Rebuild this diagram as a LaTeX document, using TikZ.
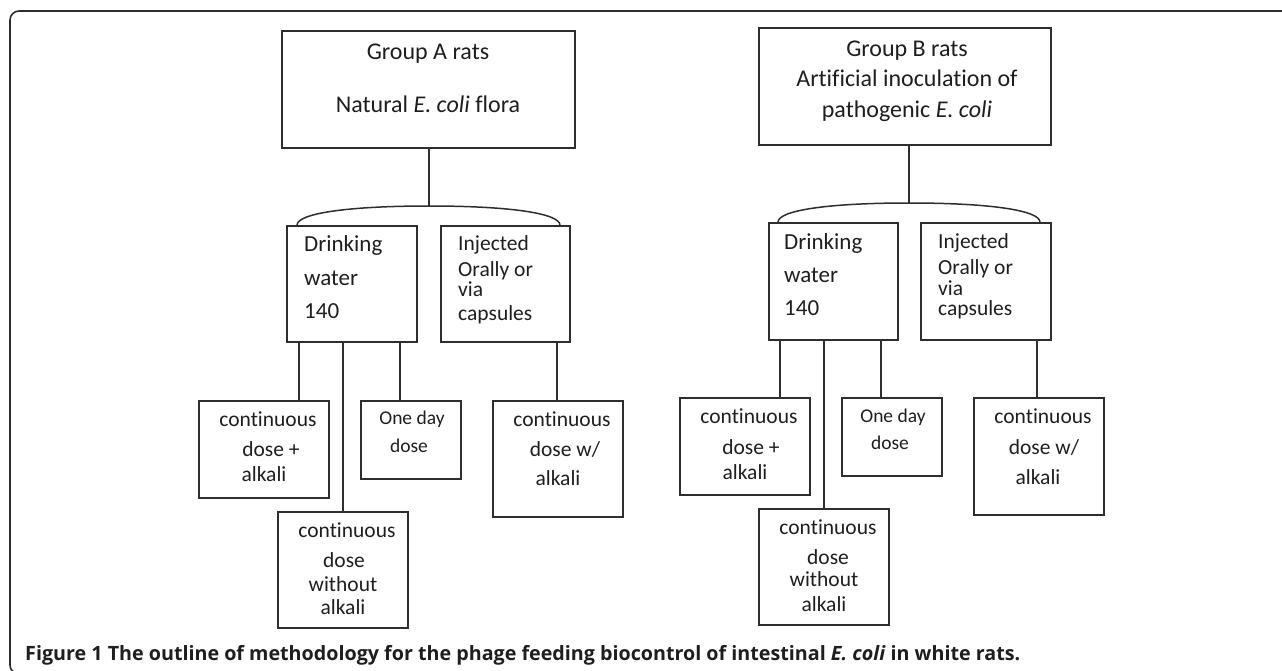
\documentclass[tikz,border=0pt]{standalone}
\usepackage{fontspec}
\setmainfont{Carlito}[Ligatures={NoCommon}]
\newfontfamily\capfont{Open Sans}
\begin{document}
\begin{tikzpicture}[x=1pt,y=-1pt,
  box/.style={draw=linecol, line width=1.6pt, rectangle, inner sep=0pt},
  conn/.style={draw=linecol, line width=1.5pt},
  tx/.style={inner sep=0pt, text=txtcol, font=\fontsize{21.5}{21.5}\selectfont, text height=0.62em, text depth=0.08em},
  tbig/.style={tx, font=\fontsize{24}{24}\selectfont},
  tdw/.style={tx, anchor=west, font=\fontsize{23}{23}\selectfont},
  ts/.style={tx, font=\fontsize{19.5}{19.5}\selectfont},
  tsl/.style={tx, anchor=west},
  figcap/.style={inner sep=0pt, anchor=base west, text=txtcol, font=\capfont\fontsize{19.7}{19.7}\selectfont\bfseries}
]
\definecolor{linecol}{HTML}{2E2E2E}
\definecolor{txtcol}{HTML}{1E1E1E}
\useasboundingbox (0,0) rectangle (1282,671);
\clip (0,0) rectangle (1282,671);
% outer frame
\draw[linecol, line width=1.6pt, rounded corners=9pt] (10,11) rectangle (1310,674);

% ---------- Group A ----------
\node[box, minimum width=293, minimum height=117] (gA) at (428.5,89.5) {};
\node[tbig] (gA1) at (428,57) {Group A rats};
\node[tbig] (gA2) at (428,110) {Natural \textit{E. coli} flora};
\coordinate (pA) at (429,206);
\node[box, minimum width=130, minimum height=116] (dA) at (352,284) {};
\node[tdw] (dA1) at (304,249) {Drinking};
\node[tdw] (dA2) at (304,283) {water};
\node[tdw] (dA3) at (304,316) {140};
\node[box, minimum width=129, minimum height=116] (iA) at (505.5,284) {};
\node[tsl] (iA1) at (458,248) {Injected};
\node[tsl] (iA2) at (458,274) {Orally or};
\node[tsl] (iA3) at (458,294) {via};
\node[tsl] (iA4) at (458,318) {capsules};
\node[box, minimum width=130, minimum height=97] (caA) at (264,449.5) {};
\node[tx] (caA1) at (268,424) {continuous};
\node[tx] (caA2) at (271,454) {dose +};
\node[tx] (caA3) at (264,479) {alkali};
\node[box, minimum width=100, minimum height=78] (oA) at (411,440) {};
\node[ts] (oA1) at (412,422) {One day};
\node[ts] (oA2) at (409,450) {dose};
\node[box, minimum width=130, minimum height=116] (cwA) at (558,459) {};
\node[tx] (cwA1) at (562,424) {continuous};
\node[tx] (cwA2) at (565,454) {dose w/};
\node[tx] (cwA3) at (558,483) {alkali};
\node[box, minimum width=130, minimum height=116] (nA) at (343,570) {};
\node[tx] (nA1) at (347,535) {continuous};
\node[tx] (nA2) at (344,565) {dose};
\node[tx] (nA3) at (343,589) {without};
\node[tx] (nA4) at (343,612) {alkali};

\draw[conn] (gA.south -| pA) -- (pA);
\draw[conn] (dA.north -| 297,0) .. controls +(0,-12) and +(-80,0) .. (pA)
            .. controls +(80,0) and +(0,-12) .. (iA.north -| 560,0);
\draw[conn] (dA.south -| 299,0) -- (caA.north -| 299,0);
\draw[conn] (dA.south -| 343,0) -- (nA.north -| 343,0);
\draw[conn] (dA.south -| 400,0) -- (oA.north -| 400,0);
\draw[conn] (iA.south -| 557,0) -- (cwA.north -| 557,0);

% ---------- Group B ----------
\node[box, minimum width=292, minimum height=117] (gB) at (905,86.5) {};
\node[tbig] (gB1) at (907,54) {Group B rats};
\node[tbig] (gB2) at (907,84) {Artificial inoculation of};
\node[tbig] (gB3) at (907,115) {pathogenic \textit{E. coli}};
\coordinate (pB) at (909,203);
\node[box, minimum width=129, minimum height=117] (dB) at (833.5,281.5) {};
\node[tdw] (dB1) at (784,247) {Drinking};
\node[tdw] (dB2) at (784,280) {water};
\node[tdw] (dB3) at (784,313) {140};
\node[box, minimum width=130, minimum height=117] (iB) at (986,281.5) {};
\node[tsl] (iB1) at (938,246) {Injected};
\node[tsl] (iB2) at (938,272) {Orally or};
\node[tsl] (iB3) at (938,293) {via};
\node[tsl] (iB4) at (938,313) {capsules};
\node[box, minimum width=130, minimum height=97] (caB) at (745,446.5) {};
\node[tx] (caB1) at (749,421) {continuous};
\node[tx] (caB2) at (751,452) {dose +};
\node[tx] (caB3) at (745,477) {alkali};
\node[box, minimum width=100, minimum height=78] (oB) at (892,437) {};
\node[ts] (oB1) at (893,420) {One day};
\node[ts] (oB2) at (890,447) {dose};
\node[box, minimum width=130, minimum height=117] (cwB) at (1039,456.5) {};
\node[tx] (cwB1) at (1043,421) {continuous};
\node[tx] (cwB2) at (1044,452) {dose w/};
\node[tx] (cwB3) at (1038,482) {alkali};
\node[box, minimum width=130, minimum height=116] (nB) at (824,567) {};
\node[tx] (nB1) at (828,532) {continuous};
\node[tx] (nB2) at (828,562) {dose};
\node[tx] (nB3) at (824,584) {without};
\node[tx] (nB4) at (824,609) {alkali};

\draw[conn] (gB.south -| pB) -- (pB);
\draw[conn] (dB.north -| 778,0) .. controls +(0,-12) and +(-80,0) .. (pB)
            .. controls +(80,0) and +(0,-12) .. (iB.north -| 1040,0);
\draw[conn] (dB.south -| 780,0) -- (caB.north -| 780,0);
\draw[conn] (dB.south -| 824,0) -- (nB.north -| 824,0);
\draw[conn] (dB.south -| 881,0) -- (oB.north -| 881,0);
\draw[conn] (iB.south -| 1037,0) -- (cwB.north -| 1037,0);

% caption
\node[figcap] (caption) at (25,660) {Figure 1 The outline of methodology for the phage feeding biocontrol of intestinal \textit{E. coli} in white rats.};
\end{tikzpicture}
\end{document}
